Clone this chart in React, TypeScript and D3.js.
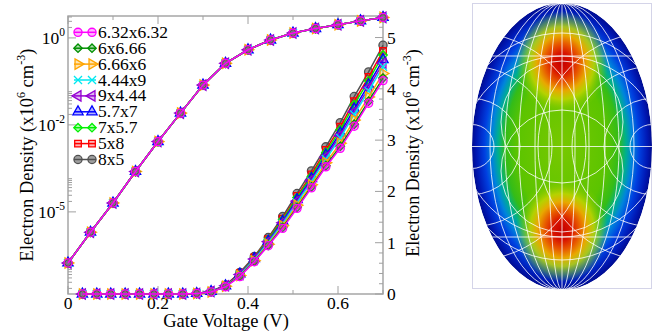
import React from 'react';
import * as d3 from 'd3';

const W = 652;
const H = 332;
const FONT = 'Liberation Serif';

// gate voltage for the log curve (left axis) and the linear curves (right axis)
const logVoltage = [0, 0.05, 0.1, 0.15, 0.2, 0.25, 0.3, 0.35, 0.4, 0.45, 0.5, 0.55, 0.6, 0.65, 0.7];
const logDensity = [3.4e-7, 2.6e-6, 1.8e-5, 1.45e-4, 1.05e-3, 6.9e-3, 0.044, 0.186, 0.457, 0.87, 1.38, 1.86, 2.4, 3.09, 3.89];

const linVoltage = [0.032, 0.064, 0.095, 0.127, 0.159, 0.191, 0.223, 0.255, 0.286, 0.318, 0.35,
  0.382, 0.414, 0.445, 0.477, 0.509, 0.541, 0.573, 0.605, 0.636, 0.668, 0.7];

const dens_6p32x6p32 = [0, 0, 0, 0, 0, 0, 0, 0, 0.01, 0.04, 0.14, 0.34, 0.63, 0.94, 1.28, 1.67, 2.07, 2.48, 2.84, 3.27, 3.72, 4.16];
const dens_6x6p66 = [0, 0, 0, 0, 0, 0, 0, 0, 0.01, 0.04, 0.15, 0.35, 0.64, 0.95, 1.3, 1.69, 2.09, 2.5, 2.88, 3.31, 3.76, 4.21];
const dens_6p66x6 = [0, 0, 0, 0, 0, 0, 0, 0, 0.01, 0.04, 0.15, 0.36, 0.65, 0.97, 1.33, 1.73, 2.13, 2.56, 2.94, 3.39, 3.84, 4.3];
const dens_4p44x9 = [0, 0, 0, 0, 0, 0, 0, 0, 0.01, 0.04, 0.15, 0.37, 0.67, 1.0, 1.37, 1.78, 2.19, 2.63, 3.04, 3.5, 3.96, 4.43];
const dens_9x4p44 = [0, 0, 0, 0, 0, 0, 0, 0, 0.01, 0.05, 0.16, 0.38, 0.68, 1.02, 1.39, 1.81, 2.22, 2.67, 3.09, 3.55, 4.02, 4.5];
const dens_5p7x7 = [0, 0, 0, 0, 0, 0, 0, 0, 0.01, 0.05, 0.16, 0.39, 0.69, 1.03, 1.42, 1.84, 2.25, 2.71, 3.14, 3.61, 4.08, 4.57];
const dens_7x5p7 = [0, 0, 0, 0, 0, 0, 0, 0, 0.01, 0.05, 0.16, 0.4, 0.7, 1.06, 1.45, 1.88, 2.29, 2.76, 3.2, 3.69, 4.16, 4.66];
const dens_5x8 = [0, 0, 0, 0, 0, 0, 0, 0, 0.01, 0.05, 0.17, 0.41, 0.71, 1.07, 1.47, 1.91, 2.33, 2.81, 3.26, 3.76, 4.23, 4.74];
const dens_8x5 = [0, 0, 0, 0, 0, 0, 0, 0, 0.01, 0.05, 0.17, 0.42, 0.73, 1.1, 1.51, 1.96, 2.4, 2.87, 3.34, 3.85, 4.33, 4.85];

const seriesNames = ['6.32x6.32', '6x6.66', '6.66x6', '4.44x9', '9x4.44', '5.7x7', '7x5.7', '5x8', '8x5'];
const seriesColors = ['#ff00ff', '#009000', '#ffa500', '#00e8f0', '#9400d3', '#0000ff', '#00f000', '#ff0000', '#505050'];
const seriesSymbols = ['circle', 'diamond', 'triRight', 'times', 'triLeft', 'triUp', 'diamond', 'square', 'circle'];
const seriesLinear = [dens_6p32x6p32, dens_6x6p66, dens_6p66x6, dens_4p44x9, dens_9x4p44, dens_5p7x7, dens_7x5p7, dens_5x8, dens_8x5];

const xTicks = [0, 0.2, 0.4, 0.6];
const xMinor = [0.1, 0.3, 0.5, 0.7];
const logMajorExp = [0, -2.5, -5];
const logMajorLabel = ['0', '-2', '-5'];
const linTicks = [0, 1, 2, 3, 4, 5];

// white grid lines over the density picture
const meridianRx = [13, 27, 43, 57, 72];
const sideRadii = [22, 48, 80, 114];

const x = d3.scaleLinear().domain([0, 0.7]).range([68, 383]);
const yLog = d3.scaleLog().domain([Math.pow(10, -7.36), Math.pow(10, 0.63)]).range([294, 16]);
const yLin = d3.scaleLinear().domain([0, 5.42]).range([294, 16]);

const symbolPath = (kind: string) => {
  if (kind === 'circle') return { d: d3.symbol().type(d3.symbolCircle).size(52)()!, rot: 0 };
  if (kind === 'diamond') return { d: d3.symbol().type(d3.symbolSquare).size(36)()!, rot: 45 };
  if (kind === 'square') return { d: d3.symbol().type(d3.symbolSquare).size(44)()!, rot: 0 };
  if (kind === 'times') return { d: d3.symbol().type(d3.symbolTimes).size(44)()!, rot: 0 };
  const d = d3.symbol().type(d3.symbolTriangle).size(46)()!;
  return { d, rot: kind === 'triRight' ? 90 : kind === 'triLeft' ? -90 : 0 };
};

const Marker = ({ kind, color, cx, cy }: { kind: string; color: string; cx: number; cy: number }) => {
  const s = symbolPath(kind);
  return (
    <path
      d={s.d}
      transform={`translate(${cx},${cy}) rotate(${s.rot})`}
      fill={kind === 'times' ? 'none' : color}
      fillOpacity={color === '#505050' ? 0.55 : 0.3}
      stroke={color}
      strokeWidth={1.3}
    />
  );
};

const Label = (props: any) => <text fontFamily={FONT} {...props} />;

const Chart = () => {
  const line = d3.line<[number, number]>().x(d => d[0]).y(d => d[1]);
  const order = d3.range(seriesNames.length).reverse();
  const axisColor = '#a0a0a0';

  const logMinor: number[] = [];
  [0, -2.5, -5, -7.5].forEach(m => {
    for (let k = 2; k <= 9; k++) {
      const v = k * Math.pow(10, m);
      const [lo, hi] = yLog.domain();
      if (v > lo && v < hi) logMinor.push(v);
    }
  });
  const linMinor = d3.range(0, 5.41, 0.2).filter(v => Math.abs(v - Math.round(v)) > 0.01);

  return (
    <g fill="#000">
      <rect x={68} y={16} width={315} height={278} fill="none" stroke={axisColor} strokeWidth={1.4} />
      {/* x ticks bottom and top */}
      {xTicks.map(t => (
        <g key={'xt' + t}>
          <line x1={x(t)} x2={x(t)} y1={294} y2={286} stroke={axisColor} />
          <line x1={x(t)} x2={x(t)} y1={16} y2={24} stroke={axisColor} />
          <Label x={x(t)} y={309} fontSize={17.5} textAnchor="middle">{t === 0 ? '0' : t.toFixed(1)}</Label>
        </g>
      ))}
      {xMinor.map(t => (
        <g key={'xm' + t}>
          <line x1={x(t)} x2={x(t)} y1={294} y2={290} stroke={axisColor} />
          <line x1={x(t)} x2={x(t)} y1={16} y2={20} stroke={axisColor} />
        </g>
      ))}
      {/* left log axis */}
      {logMajorExp.map((e, i) => {
        const yy = yLog(Math.pow(10, e));
        return (
          <g key={'ly' + e}>
            <line x1={68} x2={76} y1={yy} y2={yy} stroke={axisColor} />
            <Label x={65} y={yy + 6} fontSize={17.5} textAnchor="end">
              10<tspan dy={-8} fontSize={11.5}>{logMajorLabel[i]}</tspan>
            </Label>
          </g>
        );
      })}
      {logMinor.map(v => (
        <line key={'lm' + v} x1={68} x2={72} y1={yLog(v)} y2={yLog(v)} stroke={axisColor} />
      ))}
      {/* right linear axis */}
      {linTicks.map(t => (
        <g key={'ry' + t}>
          <line x1={383} x2={375} y1={yLin(t)} y2={yLin(t)} stroke={axisColor} />
          <Label x={387} y={yLin(t) + 6} fontSize={17.5}>{t}</Label>
        </g>
      ))}
      {linMinor.map(v => (
        <line key={'rm' + v} x1={383} x2={379} y1={yLin(v)} y2={yLin(v)} stroke={axisColor} />
      ))}

      {/* curves */}
      {order.map(i => (
        <g key={'s' + i}>
          <path
            d={line(logVoltage.map((v, j) => [x(v), yLog(logDensity[j])]))!}
            fill="none" stroke={seriesColors[i]} strokeWidth={1.5}
          />
          {logVoltage.map((v, j) => (
            <Marker key={j} kind={seriesSymbols[i]} color={seriesColors[i]} cx={x(v)} cy={yLog(logDensity[j])} />
          ))}
        </g>
      ))}
      {order.map(i => (
        <g key={'l' + i}>
          <path
            d={line(linVoltage.map((v, j) => [x(v), yLin(seriesLinear[i][j])]))!}
            fill="none" stroke={seriesColors[i]} strokeWidth={1.5}
          />
          {linVoltage.map((v, j) => (
            <Marker key={j} kind={seriesSymbols[i]} color={seriesColors[i]} cx={x(v)} cy={yLin(seriesLinear[i][j])} />
          ))}
        </g>
      ))}

      {/* legend */}
      {seriesNames.map((n, i) => {
        const ly = 32.3 + i * 15.9;
        return (
          <g key={'lg' + n}>
            <line x1={74} x2={96} y1={ly} y2={ly} stroke={seriesColors[i]} strokeWidth={1.5} />
            <Marker kind={seriesSymbols[i]} color={seriesColors[i]} cx={78} cy={ly} />
            <Marker kind={seriesSymbols[i]} color={seriesColors[i]} cx={92} cy={ly} />
            <Label x={98} y={ly + 5.5} fontSize={17.5}>{n}</Label>
          </g>
        );
      })}

      {/* axis titles */}
      <Label x={226} y={327} fontSize={18.5} textAnchor="middle">Gate Voltage (V)</Label>
      <Label transform="translate(33,155) rotate(-90)" fontSize={18.5} textAnchor="middle">
        Electron Density (x10<tspan dy={-8} fontSize={12}>6</tspan><tspan dy={8}> cm</tspan>
        <tspan dy={-8} fontSize={12}>-3</tspan><tspan dy={8}>)</tspan>
      </Label>
      <Label transform="translate(419,153) rotate(-90)" fontSize={18} textAnchor="middle">
        Electron Density (x10<tspan dy={-8} fontSize={12}>6</tspan><tspan dy={8}> cm</tspan>
        <tspan dy={-8} fontSize={12}>-3</tspan><tspan dy={8}>)</tspan>
      </Label>
    </g>
  );
};

const DensityMap = () => {
  const cx = 562, cy = 146.5, rx = 90, ry = 143.5;
  const blobs = [63, 230];
  const left = cx - rx, right = cx + rx;
  return (
    <g>
      <defs>
        <clipPath id="dotClip">
          <ellipse cx={cx} cy={cy} rx={rx} ry={ry} />
        </clipPath>
        <radialGradient id="baseGrad" cx="50%" cy="50%" r="50%">
          <stop offset="0" stopColor="#78c800" />
          <stop offset="0.5" stopColor="#5cc400" />
          <stop offset="0.63" stopColor="#34bc18" />
          <stop offset="0.71" stopColor="#00b08c" />
          <stop offset="0.78" stopColor="#0084dc" />
          <stop offset="0.86" stopColor="#0040e0" />
          <stop offset="0.95" stopColor="#0018b4" />
          <stop offset="1" stopColor="#000c90" />
        </radialGradient>
        <radialGradient id="blobGrad" cx="50%" cy="50%" r="50%">
          <stop offset="0" stopColor="#c40000" />
          <stop offset="0.2" stopColor="#d81400" />
          <stop offset="0.38" stopColor="#e85a00" />
          <stop offset="0.54" stopColor="#e8a800" />
          <stop offset="0.7" stopColor="#c4d400" stopOpacity={0.85} />
          <stop offset="0.86" stopColor="#90cc00" stopOpacity={0.45} />
          <stop offset="1" stopColor="#78c800" stopOpacity={0} />
        </radialGradient>
      </defs>
      <rect x={472.5} y={3.5} width={179} height={285} fill="none" stroke="#d4d4e8" />
      <g clipPath="url(#dotClip)">
        <ellipse cx={cx} cy={cy} rx={rx} ry={ry} fill="url(#baseGrad)" />
        {blobs.map(b => (
          <ellipse key={b} cx={cx} cy={b} rx={46} ry={52} fill="url(#blobGrad)" />
        ))}
        <g fill="none" stroke="#fff" strokeOpacity={0.8} strokeWidth={1}>
          <line x1={cx} x2={cx} y1={0} y2={300} />
          {[56, cy, 237].map(h => (
            <line key={h} x1={left} x2={right} y1={h} y2={h} />
          ))}
          {meridianRx.map(m => (
            <ellipse key={m} cx={cx} cy={cy} rx={m} ry={ry} />
          ))}
          {sideRadii.map(r => (
            <g key={r}>
              <circle cx={left} cy={cy} r={r} />
              <circle cx={right} cy={cy} r={r} />
            </g>
          ))}
          <circle cx={cx} cy={158} r={102} />
          <circle cx={cx} cy={135} r={102} />
          <circle cx={cx} cy={171} r={61} />
          <circle cx={cx} cy={122} r={61} />
        </g>
      </g>
    </g>
  );
};

export default function App() {
  return (
    <svg width={W} height={H} style={{ position: 'absolute', left: 0, top: 0, background: '#fff' }}>
      <Chart />
      <DensityMap />
    </svg>
  );
}
